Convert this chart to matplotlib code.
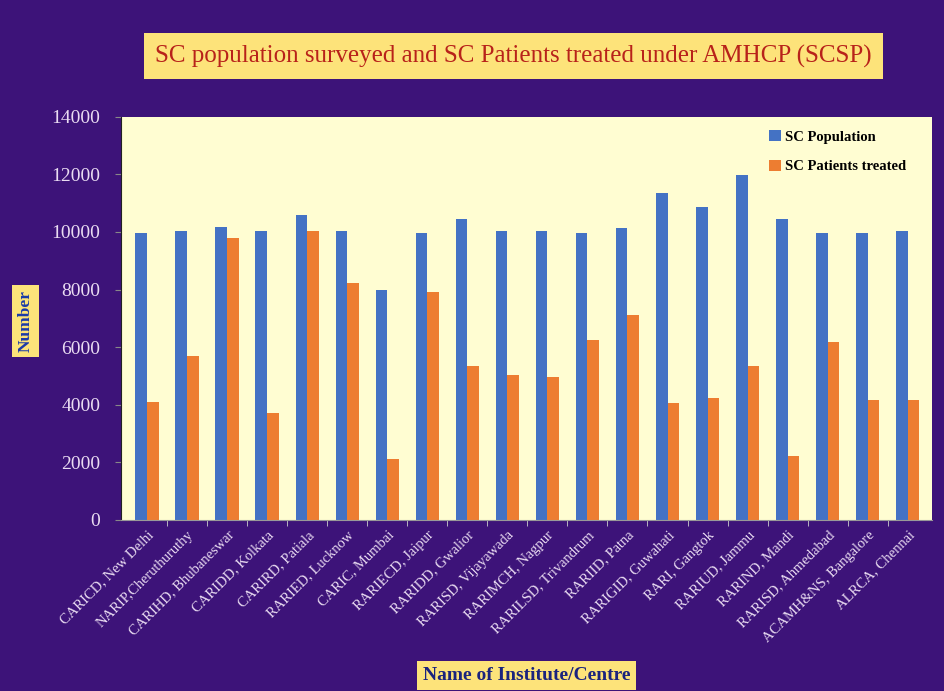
import matplotlib.pyplot as plt
import numpy as np

centres = ['CARICD, New Delhi', 'NARIP,Cheruthuruthy', 'CARIHD, Bhubaneswar',
           'CARIDD, Kolkata', 'CARIRD, Patiala', 'RARIED, Lucknow', 'CARIC, Mumbai',
           'RARIECD, Jaipur', 'RARIDD, Gwalior', 'RARISD, Vijayawada',
           'RARIMCH, Nagpur', 'RARILSD, Trivandrum', 'RARIID, Patna',
           'RARIGID, Guwahati', 'RARI, Gangtok', 'RARIUD, Jammu', 'RARIND, Mandi',
           'RARISD, Ahmedabad', 'ACAMH&NS, Bangalore', 'ALRCA, Chennai']
sc_population = [9980, 10050, 10190, 10050, 10590, 10050, 7990, 9980, 10450, 10050,
                 10050, 9980, 10130, 11350, 10850, 11980, 10440, 9980, 9980, 10050]
sc_treated = [4110, 5710, 9785, 3700, 10050, 8240, 2110, 7910, 5360, 5040,
              4980, 6250, 7100, 4050, 4250, 5360, 2230, 6170, 4170, 4170]

bg = '#3d1379'
tick_col = '#eadcf2'
serif = ['Liberation Serif', 'DejaVu Serif']

fig = plt.figure(figsize=(9.45, 6.91), dpi=100, facecolor=bg)
ax = fig.add_axes([0.128, 0.2475, 0.858, 0.5835])
ax.set_facecolor('#fffdd2')

x = np.arange(len(centres))
w = 0.29
ax.bar(x - w / 2, sc_population, w, color='#4472c4', label='SC Population')
ax.bar(x + w / 2, sc_treated, w, color='#ed7d31', label='SC Patients treated')

ax.set_xlim(-0.65, 19.6)
ax.set_ylim(0, 14000)
ax.set_yticks(range(0, 14001, 2000))
ax.set_yticklabels([str(v) for v in range(0, 14001, 2000)], family=serif,
                   fontsize=14, color=tick_col)
ax.tick_params(axis='y', length=4, pad=11, color='#888888')
ax.set_xticks(x)
ax.set_xticklabels(centres, rotation=45, ha='right', rotation_mode='anchor',
                   family=serif, fontsize=10.5, color=tick_col)
ax.set_xticks(x[:-1] + 0.5, minor=True)
ax.tick_params(axis='x', which='major', length=0, pad=6)
ax.tick_params(axis='x', which='minor', length=4, color='#cccccc')
for s in ['top', 'right']:
    ax.spines[s].set_visible(False)
ax.spines['left'].set_color('#222222')
ax.spines['bottom'].set_color('#999999')

leg = ax.legend(loc='upper right', bbox_to_anchor=(0.985, 1.0), frameon=False,
                prop={'family': serif, 'size': 10.5, 'weight': 'bold'},
                handlelength=0.8, handleheight=0.8, labelspacing=1.1,
                handletextpad=0.3)

fig.text(0.543, 0.919, 'SC population surveyed and SC Patients treated under AMHCP (SCSP)',
         ha='center', va='center', family=serif, fontsize=18, color='#b8221a',
         bbox=dict(boxstyle='square,pad=0.45', fc='#fde37a', ec='none'))
fig.text(0.027, 0.535, 'Number', rotation=90, ha='center', va='center',
         family=serif, fontsize=12.5, weight='bold', color='#1a3aa8',
         bbox=dict(boxstyle='square,pad=0.3', fc='#fde37a', ec='none'))
fig.text(0.557, 0.022, 'Name of Institute/Centre', ha='center', va='center',
         family=serif, fontsize=14, weight='bold', color='#1a237e',
         bbox=dict(boxstyle='square,pad=0.3', fc='#fde37a', ec='none'))

fig.savefig('out.png', dpi=100, facecolor=bg)
